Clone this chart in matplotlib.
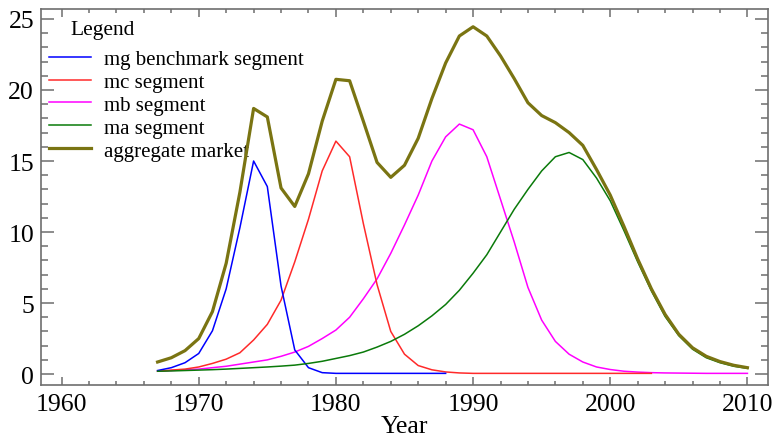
import matplotlib
matplotlib.use("Agg")
import matplotlib.pyplot as plt
from matplotlib.ticker import MultipleLocator

plt.rcParams["font.family"] = ["Liberation Serif", "DejaVu Serif"]

years = list(range(1967, 2011))

# mg benchmark segment (drawn only up to 1988)
mg_years = list(range(1967, 1989))
mg_values = [0.25, 0.45, 0.8, 1.45, 3.05, 6.0, 10.3, 15.0, 13.2, 6.2, 1.7, 0.45,
             0.1, 0.05, 0.05, 0.05, 0.05, 0.05, 0.05, 0.05, 0.05, 0.05]

# mc segment (drawn up to 2003)
mc_years = list(range(1967, 2004))
mc_values = [0.2, 0.28, 0.35, 0.5, 0.75, 1.05, 1.5, 2.4, 3.5, 5.2, 7.9, 10.9,
             14.3, 16.4, 15.3, 10.6, 6.3, 3.0, 1.4, 0.6, 0.3, 0.15, 0.08, 0.05,
             0.05, 0.05, 0.05, 0.05, 0.05, 0.05, 0.05, 0.05, 0.05, 0.05, 0.05,
             0.05, 0.05]

mb_values = [0.2, 0.25, 0.3, 0.35, 0.45, 0.55, 0.7, 0.85, 1.0, 1.25, 1.55, 1.95,
             2.5, 3.1, 4.0, 5.3, 6.7, 8.5, 10.5, 12.6, 15.0, 16.7, 17.6, 17.2,
             15.3, 12.3, 9.3, 6.1, 3.8, 2.3, 1.4, 0.85, 0.5, 0.32, 0.2, 0.14,
             0.1, 0.08, 0.07, 0.06, 0.05, 0.05, 0.05, 0.05]

ma_values = [0.2, 0.22, 0.25, 0.28, 0.31, 0.35, 0.4, 0.45, 0.5, 0.56, 0.63, 0.75,
             0.9, 1.1, 1.3, 1.55, 1.9, 2.3, 2.8, 3.4, 4.1, 4.9, 5.9, 7.1,
             8.4, 10.0, 11.6, 13.0, 14.3, 15.3, 15.6, 15.1, 13.8, 12.2, 10.1, 7.9,
             5.85, 4.05, 2.7, 1.75, 1.15, 0.8, 0.55, 0.4]

aggregate = [0.85, 1.15, 1.65, 2.5, 4.4, 7.8, 12.8, 18.7, 18.1, 13.1, 11.8, 14.1,
             17.8, 20.75, 20.65, 17.8, 14.9, 13.85, 14.7, 16.6, 19.4, 21.9, 23.8, 24.45,
             23.8, 22.4, 20.8, 19.1, 18.2, 17.7, 17.0, 16.1, 14.4, 12.6, 10.4, 8.1,
             6.0, 4.2, 2.8, 1.85, 1.25, 0.88, 0.62, 0.45]

labels = ["mg benchmark segment", "mc segment", "mb segment", "ma segment", "aggregate market"]
colors = ["#0000ff", "#ff2a2a", "#ff00ff", "#0a7a0a", "#7a7412"]

fig = plt.figure(figsize=(7.72, 4.39), dpi=100)
ax = fig.add_axes([0.0531, 0.1207, 0.9417, 0.8565])

# near-zero tails overlap, so draw magenta first, then red, then blue
l_mb, = ax.plot(years, mb_values, color=colors[2], lw=1.1, zorder=2)
l_mc, = ax.plot(mc_years, mc_values, color=colors[1], lw=1.1, zorder=3)
l_mg, = ax.plot(mg_years, mg_values, color=colors[0], lw=1.1, zorder=4)
l_ma, = ax.plot(years, ma_values, color=colors[3], lw=1.1, zorder=5)
l_ag, = ax.plot(years, aggregate, color=colors[4], lw=2.3, zorder=6)

ax.set_xlim(1958.5, 2011.5)
ax.set_ylim(-0.77, 25.7)
ax.xaxis.set_major_locator(MultipleLocator(10))
ax.xaxis.set_minor_locator(MultipleLocator(2))
ax.yaxis.set_major_locator(MultipleLocator(5))
ax.yaxis.set_minor_locator(MultipleLocator(1))

gray = "#6e6e6e"
for s in ax.spines.values():
    s.set_color(gray)
    s.set_linewidth(1.2)
ax.tick_params(axis="both", which="both", direction="in", colors=gray,
               labelcolor="black", width=1.1, top=True, right=True, labelsize=18.5)
ax.tick_params(axis="y", which="major", length=9.4, pad=5)
ax.tick_params(axis="y", which="minor", length=4.7)
ax.tick_params(axis="x", which="major", length=5.8, pad=6)
ax.tick_params(axis="x", which="minor", length=2.9)

ax.set_xlabel("Year", fontsize=18.5, labelpad=0)

ax.text(0.04, 0.945, "Legend", transform=ax.transAxes, fontsize=15.5,
        ha="left", va="center")
ax.legend([l_mg, l_mc, l_mb, l_ma, l_ag], labels, loc="upper left",
          bbox_to_anchor=(0.0, 0.915), frameon=False, fontsize=15,
          handlelength=2.0, handletextpad=0.62, labelspacing=0.16,
          borderaxespad=0.2, borderpad=0.2)

fig.savefig("out.png", dpi=100)
